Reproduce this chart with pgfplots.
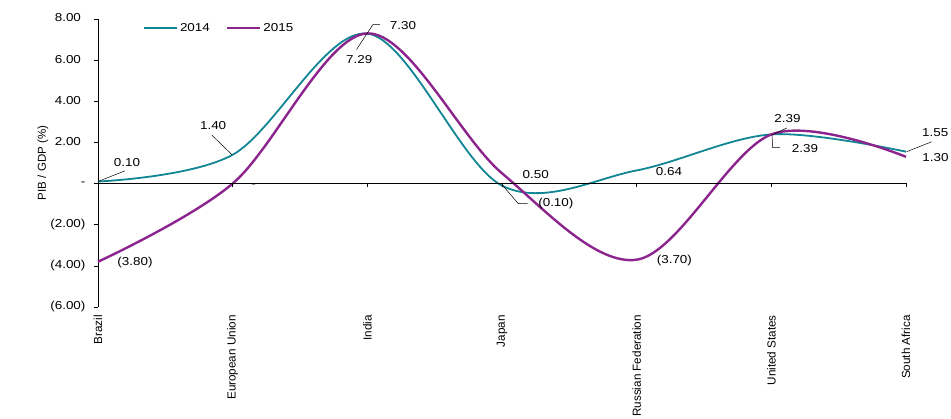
\documentclass[border=0pt]{standalone}
\usepackage{fontspec}
\setmainfont{Liberation Sans}[FakeStretch=1.17]
\newfontfamily\rotfont{Liberation Sans}
\usepackage{pgfplots}
\pgfplotsset{compat=1.18}

\definecolor{teal14}{RGB}{16,133,147}
\definecolor{purp15}{RGB}{140,36,142}

% 2014 / 2015 GDP growth, categories at 0..6
\pgfplotstableread{
x y
0 0.10
1 1.40
2 7.29
3 -0.10
4 0.64
5 2.39
6 1.55
}\gdpA
\pgfplotstableread{
x y
0 -3.80
1 0.00
2 7.30
3 0.50
4 -3.70
5 2.39
6 1.30
}\gdpB

\begin{document}
\begin{tikzpicture}[x=1pt,y=1pt]
\useasboundingbox (-98,-111) rectangle (853,307);
\begin{axis}[
    at={(0,0)}, anchor=south west,
    scale only axis, width=808pt, height=288pt,
    xmin=0, xmax=6, ymin=-6, ymax=8,
    axis x line=none, axis y line=left,
    axis line style={-, black, line width=0.6pt},
    ytick={-6,-4,-2,0,2,4,6,8},
    yticklabels={(6.00),(4.00),(2.00),{-\hspace{22pt}},2.00\phantom{)},4.00\phantom{)},6.00\phantom{)},8.00\phantom{)}},
    tick align=outside, major tick length=4pt,
    tick style={black, line width=0.6pt},
    yticklabel style={font=\fontsize{11.5}{13}\selectfont, xshift=-5pt},
    clip=false,
    legend style={at={(rel axis cs:0.052,1.0)}, anchor=north west, draw=none, fill=none,
      font=\fontsize{11.5}{13}\selectfont, legend columns=2,
      /tikz/every even column/.append style={column sep=14pt}},
    legend image code/.code={\draw[#1] (0pt,0pt) -- (33pt,0pt);},
  ]
  \addplot[teal14, line width=1.8pt, smooth, tension=0.55] table {\gdpA};
  \addlegendentry{2014}
  \addplot[purp15, line width=2.4pt, smooth, tension=0.55] table {\gdpB};
  \addlegendentry{2015}

  % zero line with ticks
  \draw[black, line width=0.6pt] (axis cs:0,0) -- (axis cs:6,0);
  \foreach \i in {1,...,6}{
    \edef\tmp{\noexpand\draw[black, line width=0.6pt] ([yshift=1pt]axis cs:\i,0) -- ([yshift=-3.5pt]axis cs:\i,0);}\tmp
  }

  % axis title
  \node[rotate=90, font=\rotfont\fontsize{11.5}{13}\selectfont] at ([xshift=-55pt]rel axis cs:0,0.5) {PIB / GDP (\%)};

  % category labels
  \foreach \i/\n in {0/Brazil,1/European Union,2/India,3/Japan,4/Russian Federation,5/United States,6/South Africa}{
    \edef\tmp{\noexpand\node[rotate=90, anchor=east, inner sep=0pt, xshift=-8pt,
      font=\noexpand\rotfont\noexpand\fontsize{11.7}{13}\noexpand\selectfont]
      at (axis cs:\i,-6) {\n};}\tmp
  }

  % data labels
  \begin{scope}[every node/.style={font=\fontsize{11.5}{13}\selectfont, inner sep=0pt}, line width=0.5pt]
  \node at (axis cs:0.215,1.04) {0.10};
  \draw (axis cs:0,0.10) -- (axis cs:0.20,0.62);
  \node at (axis cs:0.855,2.81) {1.40};
  \draw (axis cs:0.845,2.36) -- (axis cs:0.995,1.40);
  \node at (axis cs:2.265,7.69) {7.30};
  \draw (axis cs:2.094,7.73) -- (axis cs:2.042,7.73) -- (axis cs:1.92,6.52);
  \node at (axis cs:1.94,6.04) {7.29};
  \node at (axis cs:3.25,0.43) {0.50};
  \draw (axis cs:3.0,-0.05) -- (axis cs:3.12,-0.97) -- (axis cs:3.19,-0.97);
  \node at (axis cs:3.40,-0.97) {(0.10)};
  \node at (axis cs:1.155,-0.1) {-};
  \node at (axis cs:4.24,0.59) {0.64};
  \node at (axis cs:4.28,-3.75) {(3.70)};
  \node at (axis cs:0.275,-3.84) {(3.80)};
  \node at (axis cs:5.12,3.16) {2.39};
  \draw (axis cs:5.005,2.36) -- (axis cs:5.115,2.70);
  \draw (axis cs:5.005,2.36) -- (axis cs:5.01,1.75) -- (axis cs:5.065,1.75);
  \node at (axis cs:5.25,1.70) {2.39};
  \draw (axis cs:6.005,1.55) -- (axis cs:6.19,2.03);
  \node[anchor=west] at (axis cs:6.118,2.48) {1.55};
  \node[anchor=west] at (axis cs:6.12,1.26) {1.30};
  \end{scope}
\end{axis}
\end{tikzpicture}
\end{document}
